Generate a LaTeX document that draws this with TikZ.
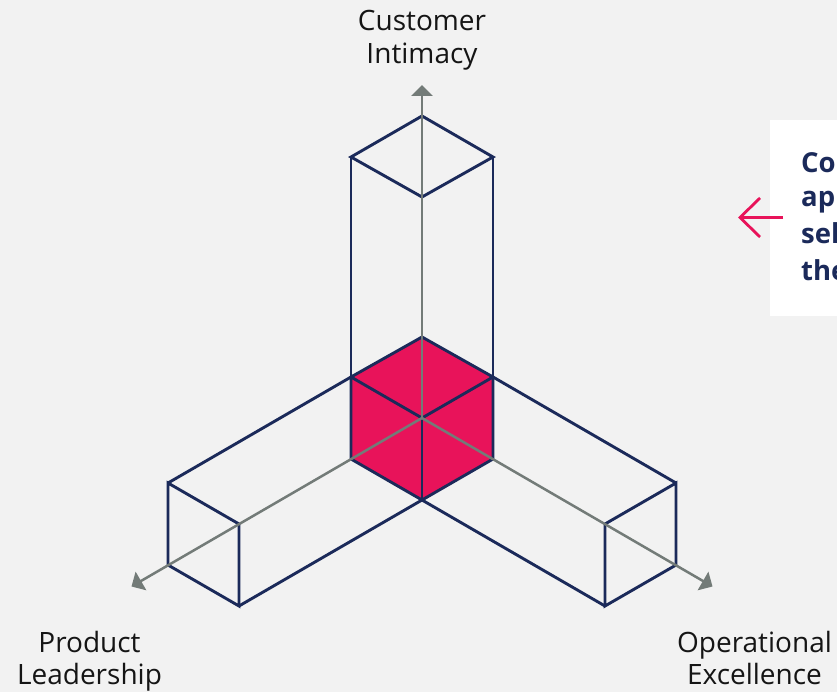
\documentclass[tikz,border=0pt]{standalone}
\usepackage{fontspec}
\setmainfont{Open Sans}
\usetikzlibrary{arrows.meta}
\definecolor{bg}{HTML}{F2F2F2}
\definecolor{navy}{HTML}{1B2A5A}
\definecolor{pinkc}{HTML}{E8135A}
\definecolor{axisgray}{HTML}{737B78}
\definecolor{labelc}{HTML}{151515}
\tikzset{
  edge/.style={draw=navy, line width=2.9pt},
  axis/.style={draw=axisgray, line width=2.5pt, -{Triangle[length=11pt,width=21pt]}},
  lbl/.style={font=\fontsize{28}{33}\selectfont, text=labelc, anchor=base, inner sep=0pt},
  calltxt/.style={font=\fontsize{27.5}{36}\selectfont\bfseries, text=navy, anchor=base west, inner sep=0pt},
}
\begin{document}
\begin{tikzpicture}[x=1pt,y=-1pt]
\fill[bg] (0,0) rectangle (837,692);
\useasboundingbox (0,0) rectangle (837,692);
% coordinates
\coordinate (C) at (422,418);
\coordinate (Top) at (422,337);
\coordinate (UL) at (351,377);
\coordinate (UR) at (493,377);
\coordinate (LL) at (351,459);
\coordinate (LR) at (493,459);
\coordinate (B) at (422,500);
\coordinate (T1) at (351,157);
\coordinate (T2) at (422,116);
\coordinate (T3) at (493,157);
\coordinate (T4) at (422,197);
\coordinate (L1) at (168,483);
\coordinate (L2) at (239,524);
\coordinate (L3) at (239,606);
\coordinate (L4) at (168,565);
\coordinate (R1) at (676,483);
\coordinate (R2) at (605,524);
\coordinate (R3) at (605,606);
\coordinate (R4) at (676,565);
\coordinate (AZ) at (422,85);
\coordinate (AY) at (131.5,586.5);
\coordinate (AX) at (712.5,586.5);
% callout box
\begin{scope}
\clip (0,0) rectangle (837,692);
\fill[white] (770,120) rectangle (850,316);
\node[calltxt] (c1) at (801,172.5) {Co};
\node[calltxt] (c2) at (801,207) {ap};
\node[calltxt] (c3) at (801,243.5) {sel};
\node[calltxt] (c4) at (801,280) {the};
\end{scope}
% pink arrow
\coordinate (PA1) at (783,217.5);
\coordinate (PA2) at (740,217.5);
\coordinate (PA3) at (760,198);
\coordinate (PA4) at (760,237);
\draw[pinkc, line width=2.8pt] (PA1) -- (PA2);
\draw[pinkc, line width=2.8pt] (PA3) -- (PA2) -- (PA4);
% central cube fill
\fill[pinkc] (Top) -- (UR) -- (LR) -- (B) -- (LL) -- (UL) -- cycle;
% cube edges
\draw[edge] (Top) -- (UR) -- (LR) -- (B) -- (LL) -- (UL) -- cycle;
\draw[edge] (UL) -- (C) -- (UR);
\draw[edge] (C) -- (B);
% top arm
\draw[edge] (UL) -- (T1);
\draw[edge] (UR) -- (T3);
\draw[edge] (T1) -- (T2) -- (T3) -- (T4) -- cycle;
% left arm
\draw[edge] (UL) -- (L1);
\draw[edge] (B) -- (L3);
\draw[edge] (L1) -- (L2) -- (L3) -- (L4) -- cycle;
% right arm
\draw[edge] (UR) -- (R1);
\draw[edge] (B) -- (R3);
\draw[edge] (R1) -- (R2) -- (R3) -- (R4) -- cycle;
% axes
\draw[axis] (C) -- (AZ);
\draw[axis] (C) -- (AY);
\draw[axis] (C) -- (AX);
% labels
\node[lbl] (ci1) at (422,31) {Customer};
\node[lbl] (ci2) at (422,63.5) {Intimacy};
\node[lbl] (pl1) at (89.5,652) {Product};
\node[lbl] (pl2) at (89.5,684.5) {Leadership};
\node[lbl] (oe1) at (754.5,652) {Operational};
\node[lbl] (oe2) at (754.5,684.5) {Excellence};
\end{tikzpicture}
\end{document}
